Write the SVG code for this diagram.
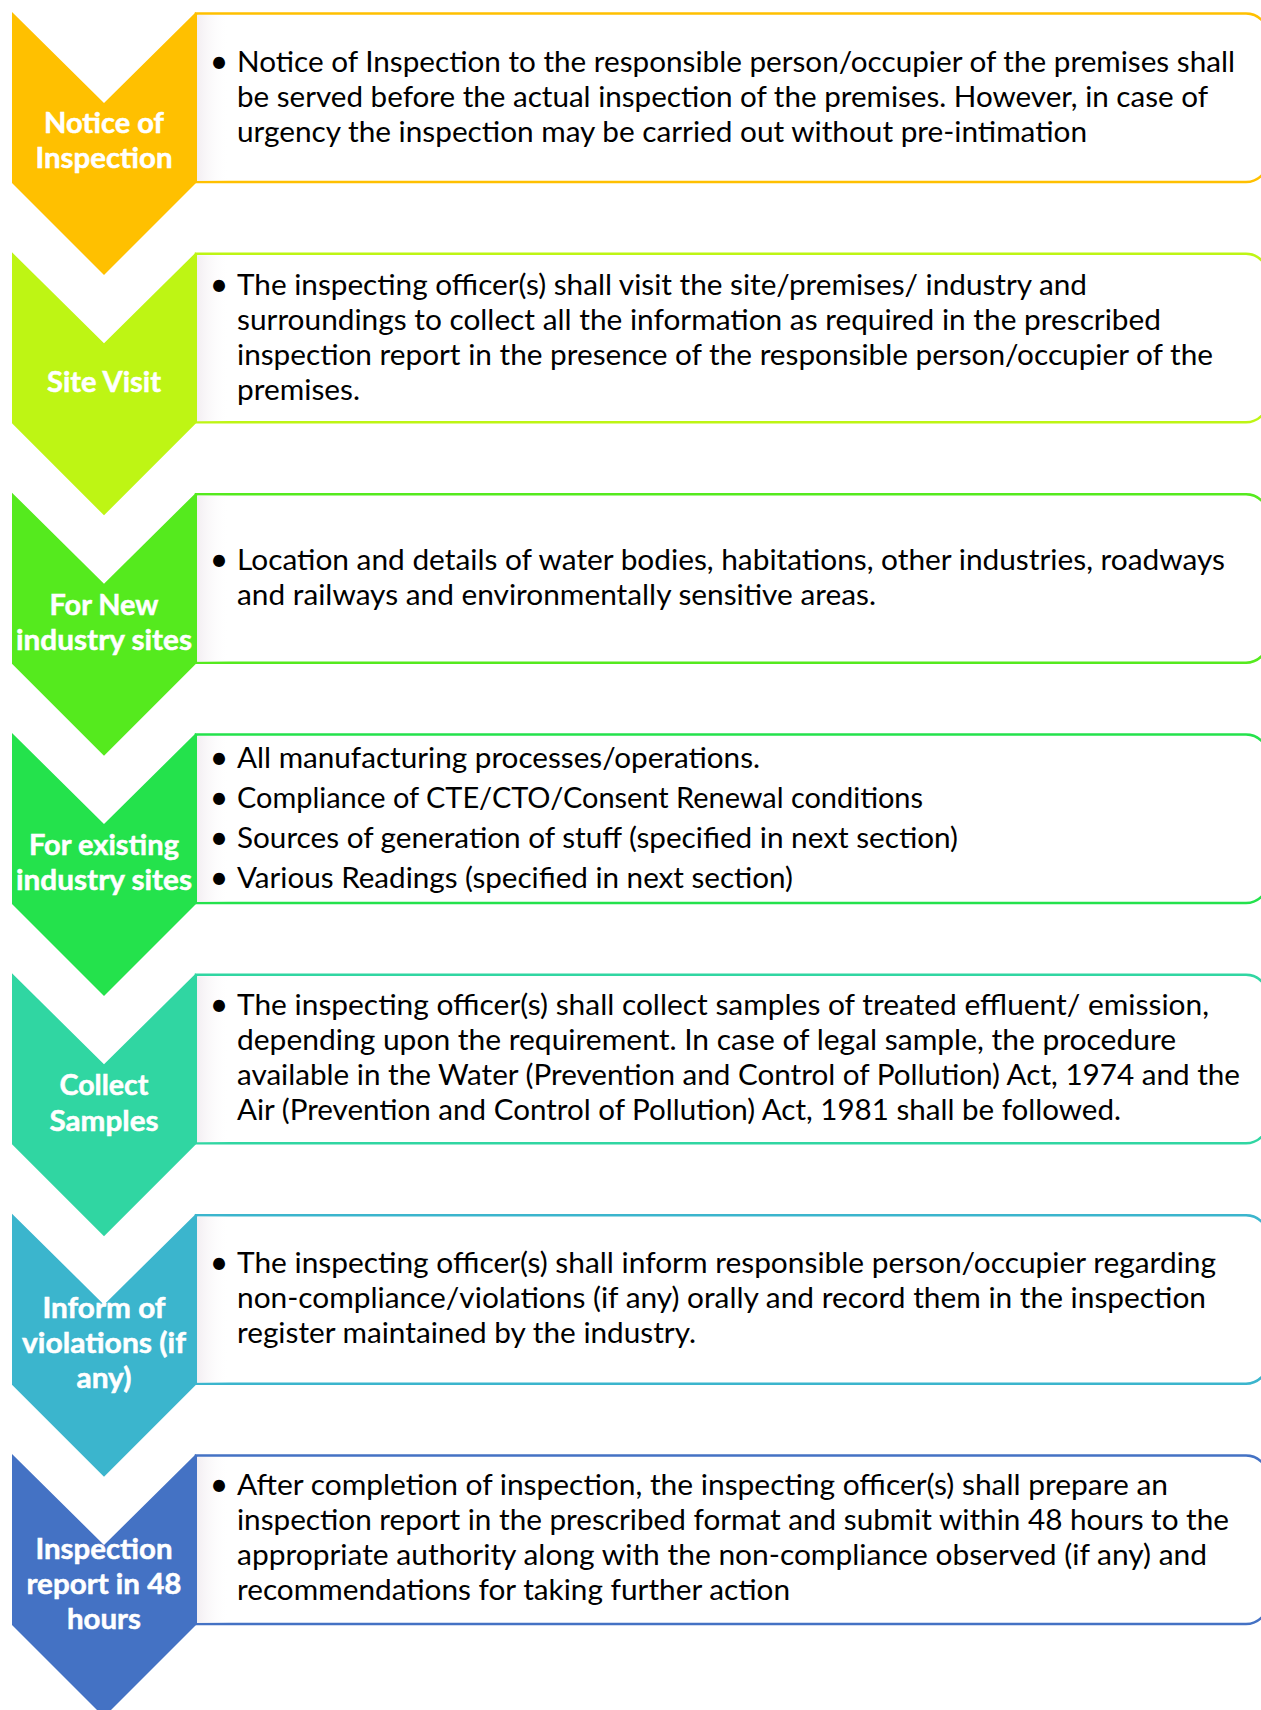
<svg xmlns="http://www.w3.org/2000/svg" width="1261" height="1710" viewBox="0 0 1261 1710">
<style>
.lbl{font-family:Lato,"Open Sans","Liberation Sans",sans-serif;font-weight:bold;font-size:28px;fill:#ffffff;stroke:#ffffff;stroke-width:0.5;text-anchor:middle}
.txt{font-family:Lato,"Open Sans","Liberation Sans",sans-serif;font-size:28px;fill:#000000}
.bul{font-family:Lato,"Open Sans","Liberation Sans",sans-serif;font-size:32px;fill:#000000;text-anchor:middle}
.box{fill:#ffffff;stroke-width:2.5}
</style>
<defs>
<path id="chev" d="M12,0 L104,91 L196,0 L196,171 L104,263 L12,171 Z"/>
<path id="boxp" d="M196,1.5 L1246,1.5 A22,22 0 0 1 1268,23.5 L1268,148 A22,22 0 0 1 1246,170 L196,170 Z"/>
<linearGradient id="edge" x1="0" y1="0" x2="1" y2="0">
<stop offset="0" stop-color="#f3eef2"/>
<stop offset="1" stop-color="#ffffff" stop-opacity="0"/>
</linearGradient>
</defs>
<rect width="1261" height="1710" fill="#ffffff"/>

<g id="step1" transform="translate(0,12)">
<use href="#boxp" class="box" stroke="#FFC000"/>
<rect x="197" y="3" width="32" height="166" fill="url(#edge)"/>
<use href="#chev" fill="#FFC000"/>
<text class="lbl" x="104" y="121" textLength="120" lengthAdjust="spacingAndGlyphs">Notice of</text>
<text class="lbl" x="104" y="156" textLength="137" lengthAdjust="spacingAndGlyphs">Inspection</text>
<text class="bul" x="219" y="61">•</text>
<text class="txt" x="237" y="60" textLength="998" lengthAdjust="spacingAndGlyphs">Notice of Inspection to the responsible person/occupier of the premises shall</text>
<text class="txt" x="237" y="95" textLength="971" lengthAdjust="spacingAndGlyphs">be served before the actual inspection of the premises. However, in case of</text>
<text class="txt" x="237" y="130" textLength="850" lengthAdjust="spacingAndGlyphs">urgency the inspection may be carried out without pre-intimation</text>
</g>

<g id="step2" transform="translate(0,252.3)">
<use href="#boxp" class="box" stroke="#BEF514"/>
<rect x="197" y="3" width="32" height="166" fill="url(#edge)"/>
<use href="#chev" fill="#BEF514"/>
<text class="lbl" x="104" y="139.7" textLength="114" lengthAdjust="spacingAndGlyphs">Site Visit</text>
<text class="bul" x="219" y="43.5">•</text>
<text class="txt" x="237" y="42.5" textLength="850" lengthAdjust="spacingAndGlyphs">The inspecting officer(s) shall visit the site/premises/ industry and</text>
<text class="txt" x="237" y="77.5" textLength="924" lengthAdjust="spacingAndGlyphs">surroundings to collect all the information as required in the prescribed</text>
<text class="txt" x="237" y="112.5" textLength="976" lengthAdjust="spacingAndGlyphs">inspection report in the presence of the responsible person/occupier of the</text>
<text class="txt" x="237" y="147.5" textLength="123" lengthAdjust="spacingAndGlyphs">premises.</text>
</g>

<g id="step3" transform="translate(0,492.7)">
<use href="#boxp" class="box" stroke="#55EA1E"/>
<rect x="197" y="3" width="32" height="166" fill="url(#edge)"/>
<use href="#chev" fill="#55EA1E"/>
<text class="lbl" x="104" y="122.3" textLength="109" lengthAdjust="spacingAndGlyphs">For New</text>
<text class="lbl" x="104" y="157.3" textLength="176" lengthAdjust="spacingAndGlyphs">industry sites</text>
<text class="bul" x="219" y="78.3">•</text>
<text class="txt" x="237" y="77.3" textLength="988" lengthAdjust="spacingAndGlyphs">Location and details of water bodies, habitations, other industries, roadways</text>
<text class="txt" x="237" y="112.3" textLength="639" lengthAdjust="spacingAndGlyphs">and railways and environmentally sensitive areas.</text>
</g>

<g id="step4" transform="translate(0,733)">
<use href="#boxp" class="box" stroke="#24E24C"/>
<rect x="197" y="3" width="32" height="166" fill="url(#edge)"/>
<use href="#chev" fill="#24E24C"/>
<text class="lbl" x="104" y="122" textLength="150" lengthAdjust="spacingAndGlyphs">For existing</text>
<text class="lbl" x="104" y="157" textLength="176" lengthAdjust="spacingAndGlyphs">industry sites</text>
<text class="bul" x="219" y="35.5">•</text>
<text class="txt" x="237" y="34.5" textLength="523" lengthAdjust="spacingAndGlyphs">All manufacturing processes/operations.</text>
<text class="bul" x="219" y="76">•</text>
<text class="txt" x="237" y="75" textLength="686" lengthAdjust="spacingAndGlyphs">Compliance of CTE/CTO/Consent Renewal conditions</text>
<text class="bul" x="219" y="116">•</text>
<text class="txt" x="237" y="115" textLength="721" lengthAdjust="spacingAndGlyphs">Sources of generation of stuff (specified in next section)</text>
<text class="bul" x="219" y="156">•</text>
<text class="txt" x="237" y="155" textLength="556" lengthAdjust="spacingAndGlyphs">Various Readings (specified in next section)</text>
</g>

<g id="step5" transform="translate(0,973.3)">
<use href="#boxp" class="box" stroke="#30D6A2"/>
<rect x="197" y="3" width="32" height="166" fill="url(#edge)"/>
<use href="#chev" fill="#30D6A2"/>
<text class="lbl" x="104" y="121.7" textLength="89" lengthAdjust="spacingAndGlyphs">Collect</text>
<text class="lbl" x="104" y="157.7" textLength="109" lengthAdjust="spacingAndGlyphs">Samples</text>
<text class="bul" x="219" y="43">•</text>
<text class="txt" x="237" y="42" textLength="972" lengthAdjust="spacingAndGlyphs">The inspecting officer(s) shall collect samples of treated effluent/ emission,</text>
<text class="txt" x="237" y="77" textLength="939" lengthAdjust="spacingAndGlyphs">depending upon the requirement. In case of legal sample, the procedure</text>
<text class="txt" x="237" y="112" textLength="1003" lengthAdjust="spacingAndGlyphs">available in the Water (Prevention and Control of Pollution) Act, 1974 and the</text>
<text class="txt" x="237" y="147" textLength="884" lengthAdjust="spacingAndGlyphs">Air (Prevention and Control of Pollution) Act, 1981 shall be followed.</text>
</g>

<g id="step6" transform="translate(0,1213.7)">
<use href="#boxp" class="box" stroke="#3BB5CD"/>
<rect x="197" y="3" width="32" height="166" fill="url(#edge)"/>
<use href="#chev" fill="#3BB5CD"/>
<text class="lbl" x="104" y="104.3" textLength="123" lengthAdjust="spacingAndGlyphs">Inform of</text>
<text class="lbl" x="104" y="139.3" textLength="164" lengthAdjust="spacingAndGlyphs">violations (if</text>
<text class="lbl" x="104" y="174.3" textLength="55" lengthAdjust="spacingAndGlyphs">any)</text>
<text class="bul" x="219" y="60.3">•</text>
<text class="txt" x="237" y="59.3" textLength="979" lengthAdjust="spacingAndGlyphs">The inspecting officer(s) shall inform responsible person/occupier regarding</text>
<text class="txt" x="237" y="94.3" textLength="969" lengthAdjust="spacingAndGlyphs">non-compliance/violations (if any) orally and record them in the inspection</text>
<text class="txt" x="237" y="129.3" textLength="459" lengthAdjust="spacingAndGlyphs">register maintained by the industry.</text>
</g>

<g id="step7" transform="translate(0,1454)">
<use href="#boxp" class="box" stroke="#4472C4"/>
<rect x="197" y="3" width="32" height="166" fill="url(#edge)"/>
<use href="#chev" fill="#4472C4"/>
<text class="lbl" x="104" y="105" textLength="137" lengthAdjust="spacingAndGlyphs">Inspection</text>
<text class="lbl" x="104" y="140" textLength="155" lengthAdjust="spacingAndGlyphs">report in 48</text>
<text class="lbl" x="104" y="175" textLength="74" lengthAdjust="spacingAndGlyphs">hours</text>
<text class="bul" x="219" y="42">•</text>
<text class="txt" x="237" y="41" textLength="931" lengthAdjust="spacingAndGlyphs">After completion of inspection, the inspecting officer(s) shall prepare an</text>
<text class="txt" x="237" y="76" textLength="992" lengthAdjust="spacingAndGlyphs">inspection report in the prescribed format and submit within 48 hours to the</text>
<text class="txt" x="237" y="111" textLength="970" lengthAdjust="spacingAndGlyphs">appropriate authority along with the non-compliance observed (if any) and</text>
<text class="txt" x="237" y="146" textLength="553" lengthAdjust="spacingAndGlyphs">recommendations for taking further action</text>
</g>
</svg>
